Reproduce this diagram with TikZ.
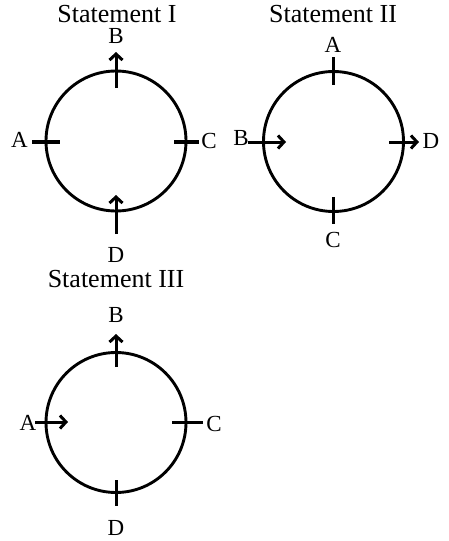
\documentclass[tikz,border=0pt]{standalone}
\usepackage{fontspec}
\setmainfont{Liberation Serif}
\usetikzlibrary{arrows.meta}
\tikzset{
  ring/.style={circle, draw, line width=2.9pt, minimum size=140pt, inner sep=0pt},
  title/.style={font=\fontsize{26}{28}\selectfont, anchor=base, inner sep=0pt},
  lbl/.style={font=\fontsize{23}{25}\selectfont, anchor=base, inner sep=0pt},
  tick/.style={line width=3pt},
  thicktick/.style={line width=4pt},
  arr/.style={line width=3pt, -{Straight Barb[length=6pt,width=13pt]}}
}
\begin{document}
\begin{tikzpicture}[x=1pt,y=-1pt]
\useasboundingbox (0,0) rectangle (448,541);
% ---------- Statement I ----------
\node[title] (t1) at (117,22) {Statement I};
\node[ring] (c1) at (116,141) {};
\node[lbl] (b1) at (116,43.5) {B};
\node[lbl] (a1) at (19.5,147.5) {A};
\node[lbl] (cc1) at (209,148) {C};
\node[lbl] (d1) at (116,262) {D};
\coordinate (a1s) at (32,142); \coordinate (a1e) at (60,142);
\coordinate (c1s) at (174,142); \coordinate (c1e) at (199,142);
\coordinate (b1s) at (116,88); \coordinate (b1e) at (116,52);
\coordinate (d1s) at (116,234); \coordinate (d1e) at (116,195);
\draw[thicktick] (a1s) -- (a1e);
\draw[thicktick] (c1s) -- (c1e);
\draw[arr] (b1s) -- (b1e);
\draw[arr] (d1s) -- (d1e);
% ---------- Statement II ----------
\node[title] (t2) at (333,22) {Statement II};
\node[ring] (c2) at (333.5,141.5) {};
\node[lbl] (a2) at (333,52.5) {A};
\node[lbl] (cc2) at (333,247.5) {C};
\node[lbl] (b2) at (241,145.5) {B};
\node[lbl] (d2) at (431,148) {D};
\coordinate (a2s) at (333,57); \coordinate (a2e) at (333,85);
\coordinate (c2s) at (333,197); \coordinate (c2e) at (333,224);
\coordinate (b2s) at (248,142); \coordinate (b2e) at (286,142);
\coordinate (d2s) at (389,142); \coordinate (d2e) at (419,142);
\draw[tick] (a2s) -- (a2e);
\draw[tick] (c2s) -- (c2e);
\draw[arr] (b2s) -- (b2e);
\draw[arr] (d2s) -- (d2e);
% ---------- Statement III ----------
\node[title] (t3) at (116,287) {Statement III};
\node[ring] (c3) at (116,422.5) {};
\node[lbl] (b3) at (116,322.5) {B};
\node[lbl] (a3) at (28,430.5) {A};
\node[lbl] (cc3) at (214,431) {C};
\node[lbl] (d3) at (116,535) {D};
\coordinate (a3s) at (35,422); \coordinate (a3e) at (68,422);
\coordinate (c3s) at (172,422); \coordinate (c3e) at (203,422);
\coordinate (b3s) at (116,367); \coordinate (b3e) at (116,334);
\coordinate (d3s) at (116,480); \coordinate (d3e) at (116,506);
\draw[arr] (a3s) -- (a3e);
\draw[tick] (c3s) -- (c3e);
\draw[arr] (b3s) -- (b3e);
\draw[tick] (d3s) -- (d3e);
\end{tikzpicture}
\end{document}
